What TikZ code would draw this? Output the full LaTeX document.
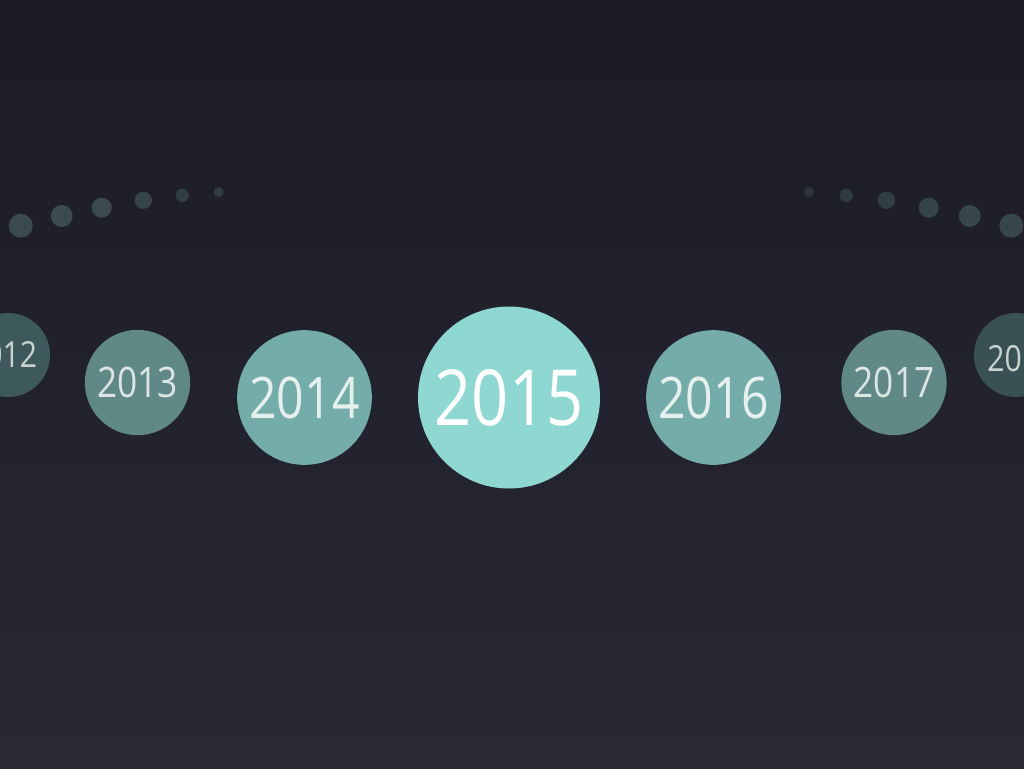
\documentclass[tikz,border=0pt]{standalone}
\usepackage{fontspec}
\setmainfont{Open Sans}[FakeStretch=0.84]
\usepackage{xcolor}
\usepackage{tikz}
\definecolor{tlbgtop}{HTML}{1B1B26}
\definecolor{tlbgbot}{HTML}{292936}
\definecolor{tldot}{HTML}{3A4A50}
\definecolor{tlfar}{HTML}{3E595C}
\definecolor{tlmid}{HTML}{5F8887}
\definecolor{tlnear}{HTML}{73ACA9}
\definecolor{tlnow}{HTML}{8FD7D1}

\begin{document}
\begin{tikzpicture}[x=0.75pt, y=-0.75pt,
    year/.style={circle, inner sep=0pt, text=white},
    yearfar/.style={year, fill=tlfar, minimum size=63pt},
    yeartext/.style={inner sep=0pt, text=white!72!tlfar, font=\fontsize{27}{27}\selectfont},
    yearmid/.style={year, fill=tlmid, minimum size=79pt, text=white!78!tlmid, font=\fontsize{31.5}{31.5}\selectfont},
    yearnear/.style={year, fill=tlnear, minimum size=101pt, text=white!82!tlnear, font=\fontsize{43}{43}\selectfont},
    yearnow/.style={year, fill=tlnow, minimum size=136.5pt, font=\fontsize{58}{58}\selectfont}]
    % Background
    \useasboundingbox (0,0) rectangle (1024,768);
    \clip (0,0) rectangle (1024,768);
    \shade[top color=tlbgtop, bottom color=tlbgbot] (0,0) rectangle (1024,768);

    % Dots, left arc
    \fill[tldot] (20.7,225.7) circle (9pt);
    \fill[tldot] (61.7,216) circle (8.2pt);
    \fill[tldot] (101.7,207.7) circle (7.5pt);
    \fill[tldot!85!tlbgtop] (143.3,200.3) circle (6.5pt);
    \fill[tldot!75!tlbgtop] (182.3,195.3) circle (5pt);
    \fill[tldot!65!tlbgtop] (218.7,192) circle (3.8pt);

    % Dots, right arc
    \fill[tldot!55!tlbgtop] (809,192) circle (3.8pt);
    \fill[tldot!65!tlbgtop] (846.3,195.3) circle (5pt);
    \fill[tldot!75!tlbgtop] (886.3,200.3) circle (6.5pt);
    \fill[tldot!85!tlbgtop] (928.7,207.7) circle (7.5pt);
    \fill[tldot!90!tlbgtop] (969.7,216) circle (8.2pt);
    \fill[tldot!90!tlbgtop] (1011.3,225.7) circle (9pt);

    % Years
    \node[yearfar] (y2012) at (8,355) {};
    \node[yeartext] (t2012) at ([xshift=-4pt]y2012.center) {2012};
    \node[yearmid] (y2013) at (137.5,382.5) {2013};
    \node[yearnear] (y2014) at (304.5,397.5) {2014};
    \node[yearnow] (y2015) at (509,397.5) {2015};
    \node[yearnear] (y2016) at (713.5,397.5) {2016};
    \node[yearmid] (y2017) at (894,382.5) {2017};
    \node[yearfar, fill=tlfar!85!tlbgtop] (y2018) at (1016,355) {};
    \node[yeartext] (t2018) at ([xshift=4.5pt, yshift=-2.5pt]y2018.center) {2018};
\end{tikzpicture}
\end{document}
